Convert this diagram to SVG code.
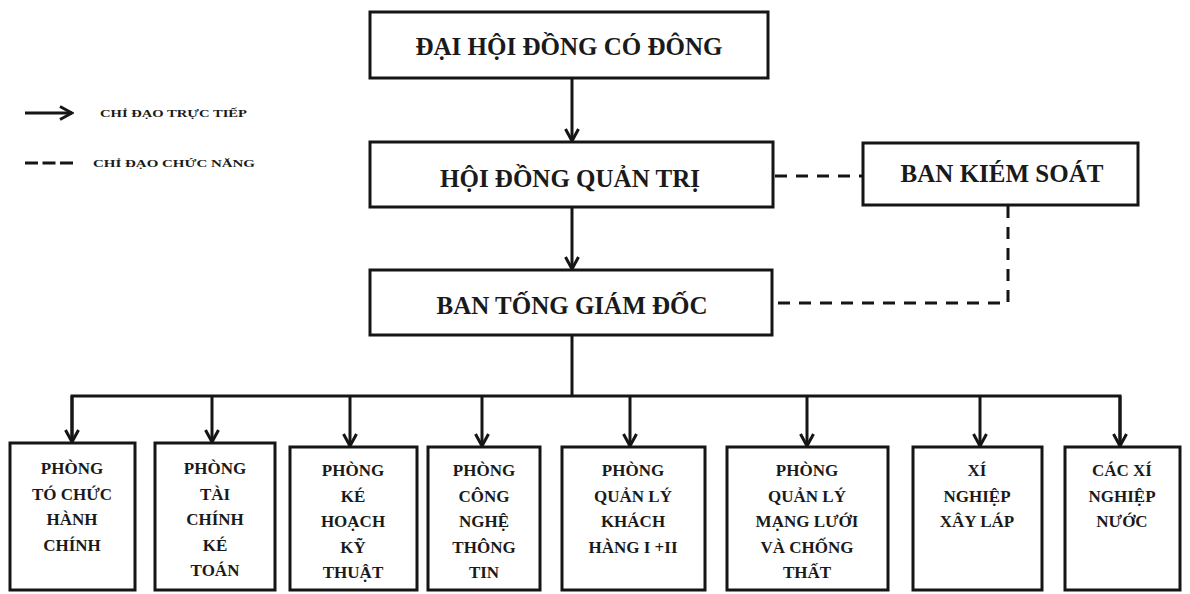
<svg xmlns="http://www.w3.org/2000/svg" width="1190" height="594" viewBox="0 0 1190 594">
<defs>
<style>
.box{fill:#fff;stroke:#151515;stroke-width:3}
.t{font-family:"Liberation Serif","Times New Roman",serif;font-weight:bold;fill:#1a1a1a;text-anchor:middle}
.big{font-size:25px}
.sm{font-size:17px}
.lg{font-family:"Liberation Serif","Times New Roman",serif;font-weight:bold;fill:#1a1a1a;font-size:11px}
.ln{fill:none;stroke:#151515;stroke-width:3}
.dash{fill:none;stroke:#151515;stroke-width:3;stroke-dasharray:12 9}
</style>
<marker id="arr" viewBox="0 0 16 16" refX="14" refY="8" markerWidth="16" markerHeight="16" markerUnits="userSpaceOnUse" orient="auto">
<path d="M2,1.5 L14,8 L2,14.5" fill="none" stroke="#151515" stroke-width="3"/>
</marker>
</defs>
<rect width="1190" height="594" fill="#fff"/>

<g id="legend">
<line class="ln" x1="25" y1="113" x2="72" y2="113" stroke-width="3.5" marker-end="url(#arr)"/>
<text class="lg" x="100" y="117" textLength="147" lengthAdjust="spacingAndGlyphs">CHỈ ĐẠO TRỰC TIẾP</text>
<line class="ln" x1="25" y1="163" x2="73" y2="163" stroke-width="3.5" stroke-dasharray="13 4.5"/>
<text class="lg" x="93" y="167" textLength="162" lengthAdjust="spacingAndGlyphs">CHỈ ĐẠO CHỨC  NĂNG</text>
</g>

<g id="connectors">
<line class="ln" x1="572" y1="78" x2="572" y2="141" marker-end="url(#arr)"/>
<line class="ln" x1="572" y1="207" x2="572" y2="269" marker-end="url(#arr)"/>
<line class="dash" x1="775" y1="176" x2="862" y2="176"/>
<polyline class="dash" points="1008,206 1008,303 774,303"/>
<line class="ln" x1="572" y1="335" x2="572" y2="396"/>
<polyline class="ln" points="72,442 72,396 1120,396 1120,446"/>
<line class="ln" x1="72" y1="396" x2="72" y2="442" marker-end="url(#arr)"/>
<line class="ln" x1="212" y1="396" x2="212" y2="442" marker-end="url(#arr)"/>
<line class="ln" x1="350" y1="396" x2="350" y2="446" marker-end="url(#arr)"/>
<line class="ln" x1="482" y1="396" x2="482" y2="446" marker-end="url(#arr)"/>
<line class="ln" x1="630" y1="396" x2="630" y2="446" marker-end="url(#arr)"/>
<line class="ln" x1="807" y1="396" x2="807" y2="446" marker-end="url(#arr)"/>
<line class="ln" x1="980" y1="396" x2="980" y2="446" marker-end="url(#arr)"/>
<line class="ln" x1="1120" y1="396" x2="1120" y2="446" marker-end="url(#arr)"/>
</g>

<g id="dhdcd">
<rect class="box" x="370" y="12" width="398" height="66"/>
<text class="t big" x="569" y="55">ĐẠI HỘI ĐỒNG CÓ ĐÔNG</text>
</g>
<g id="hdqt">
<rect class="box" x="370" y="142" width="403" height="65"/>
<text class="t big" x="570" y="187">HỘI ĐỒNG QUẢN TRỊ</text>
</g>
<g id="btgd">
<rect class="box" x="370" y="270" width="402" height="65"/>
<text class="t big" x="572" y="314">BAN TỐNG GIÁM ĐỐC</text>
</g>
<g id="bks">
<rect class="box" x="863" y="143" width="275" height="62"/>
<text class="t big" x="1002" y="182">BAN KIÉM SOÁT</text>
</g>

<g id="p1">
<rect class="box" x="10" y="443" width="125" height="147"/>
<text class="t sm" x="72"><tspan x="72" y="474">PHÒNG</tspan><tspan x="72" y="499.5">TÓ CHỨC</tspan><tspan x="72" y="525">HÀNH</tspan><tspan x="72" y="550.5">CHÍNH</tspan></text>
</g>
<g id="p2">
<rect class="box" x="155" y="443" width="120" height="147"/>
<text class="t sm" x="215"><tspan x="215" y="474">PHÒNG</tspan><tspan x="215" y="499.5">TÀI</tspan><tspan x="215" y="525">CHÍNH</tspan><tspan x="215" y="550.5">KÉ</tspan><tspan x="215" y="576">TOÁN</tspan></text>
</g>
<g id="p3">
<rect class="box" x="290" y="447" width="127" height="143"/>
<text class="t sm" x="353"><tspan x="353" y="476">PHÒNG</tspan><tspan x="353" y="501.5">KÉ</tspan><tspan x="353" y="527">HOẠCH</tspan><tspan x="353" y="552.5">KỸ</tspan><tspan x="353" y="578">THUẬT</tspan></text>
</g>
<g id="p4">
<rect class="box" x="428" y="447" width="112" height="143"/>
<text class="t sm" x="484"><tspan x="484" y="476">PHÒNG</tspan><tspan x="484" y="501.5">CÔNG</tspan><tspan x="484" y="527">NGHỆ</tspan><tspan x="484" y="552.5">THÔNG</tspan><tspan x="484" y="578">TIN</tspan></text>
</g>
<g id="p5">
<rect class="box" x="562" y="447" width="143" height="143"/>
<text class="t sm" x="633"><tspan x="633" y="476">PHÒNG</tspan><tspan x="633" y="501.5">QUẢN LÝ</tspan><tspan x="633" y="527">KHÁCH</tspan><tspan x="633" y="552.5">HÀNG I +II</tspan></text>
</g>
<g id="p6">
<rect class="box" x="727" y="447" width="161" height="143"/>
<text class="t sm" x="807"><tspan x="807" y="476">PHÒNG</tspan><tspan x="807" y="501.5">QUẢN LÝ</tspan><tspan x="807" y="527">MẠNG LƯỚI</tspan><tspan x="807" y="552.5">VÀ CHỐNG</tspan><tspan x="807" y="578">THẤT</tspan></text>
</g>
<g id="p7">
<rect class="box" x="913" y="447" width="129" height="143"/>
<text class="t sm" x="977"><tspan x="977" y="476">XÍ</tspan><tspan x="977" y="501.5">NGHIỆP</tspan><tspan x="977" y="527">XÂY LÁP</tspan></text>
</g>
<g id="p8">
<rect class="box" x="1065" y="447" width="115" height="143"/>
<text class="t sm" x="1122"><tspan x="1122" y="476">CÁC XÍ</tspan><tspan x="1122" y="501.5">NGHIỆP</tspan><tspan x="1122" y="527">NƯỚC</tspan></text>
</g>
</svg>
